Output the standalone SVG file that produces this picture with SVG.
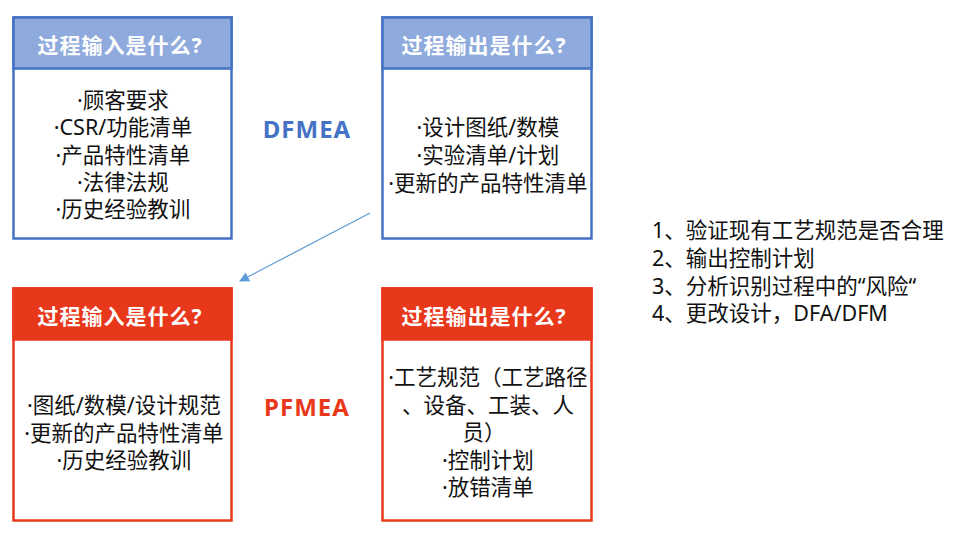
<svg xmlns="http://www.w3.org/2000/svg" width="958" height="540" viewBox="0 0 958 540">
<defs>
<style>
text{font-family:"Noto Sans","Noto Sans CJK SC",sans-serif;}
.bbox{fill:#fff;stroke:#4472C4;stroke-width:2.5;}
.bhead{fill:#8FAADC;stroke:#4472C4;stroke-width:2.5;}
.rbox{fill:#fff;stroke:#E8381B;stroke-width:2.5;}
.rhead{fill:#E8381B;stroke:#E8381B;stroke-width:2.5;}
.ht{fill:#fff;font-size:21px;font-weight:bold;text-anchor:middle;letter-spacing:1px;}
.bt{fill:#111;font-size:21.5px;text-anchor:middle;}
.lt{fill:#111;font-size:21.5px;}
.big{font-size:24px;font-weight:bold;text-anchor:middle;letter-spacing:1px;}
</style>
<marker id="ah" markerWidth="10" markerHeight="10" refX="9" refY="5" orient="auto" markerUnits="userSpaceOnUse">
<path d="M0,0 L10,5 L0,10 Z" fill="#5B9BD5"/>
</marker>
</defs>

<g id="d-input">
<rect class="bbox" x="13.5" y="17.5" width="218" height="221"/>
<rect class="bhead" x="13.5" y="17.5" width="218" height="51"/>
<text class="ht" x="120" y="53">过程输入是什么?</text>
<text class="bt" x="123" y="107.5">·顾客要求</text>
<text class="bt" x="123" y="135">·CSR/功能清单</text>
<text class="bt" x="123" y="162.5">·产品特性清单</text>
<text class="bt" x="123" y="190">·法律法规</text>
<text class="bt" x="123" y="217">·历史经验教训</text>
</g>

<g id="d-output">
<rect class="bbox" x="382.5" y="17.5" width="209" height="221"/>
<rect class="bhead" x="382.5" y="17.5" width="209" height="51"/>
<text class="ht" x="484" y="53">过程输出是什么?</text>
<text class="bt" x="488" y="135">·设计图纸/数模</text>
<text class="bt" x="488" y="162.5">·实验清单/计划</text>
<text class="bt" x="488" y="190.5">·更新的产品特性清单</text>
</g>

<g id="dfmea">
<text class="big" x="307" y="138" fill="#4472C4">DFMEA</text>
</g>

<g id="p-input">
<rect class="rbox" x="13.5" y="288.5" width="218" height="232"/>
<rect class="rhead" x="13.5" y="288.5" width="218" height="51"/>
<text class="ht" x="120" y="324">过程输入是什么?</text>
<text class="bt" x="124" y="412.5">·图纸/数模/设计规范</text>
<text class="bt" x="124" y="440.5">·更新的产品特性清单</text>
<text class="bt" x="124" y="468">·历史经验教训</text>
</g>

<g id="p-output">
<rect class="rbox" x="382.5" y="288.5" width="209" height="232"/>
<rect class="rhead" x="382.5" y="288.5" width="209" height="51"/>
<text class="ht" x="484" y="324">过程输出是什么?</text>
<text class="bt" x="488" y="384.5">·工艺规范（工艺路径</text>
<text class="bt" x="488" y="412.5">、设备、工装、人</text>
<text class="bt" x="484" y="439.5">员）</text>
<text class="bt" x="488" y="467.5">·控制计划</text>
<text class="bt" x="488" y="494.5">·放错清单</text>
</g>

<g id="pfmea">
<text class="big" x="307" y="416" fill="#E8381B">PFMEA</text>
</g>

<g id="notes">
<text class="lt" x="652" y="237.5">1、验证现有工艺规范是否合理</text>
<text class="lt" x="652" y="265.5">2、输出控制计划</text>
<text class="lt" x="652" y="293.5">3、分析识别过程中的“风险“</text>
<text class="lt" x="652" y="320.5">4、更改设计，DFA/DFM</text>
</g>

<g id="connectors">
<line x1="370" y1="213" x2="240" y2="281" stroke="#5B9BD5" stroke-width="1.2" marker-end="url(#ah)"/>
</g>
</svg>
